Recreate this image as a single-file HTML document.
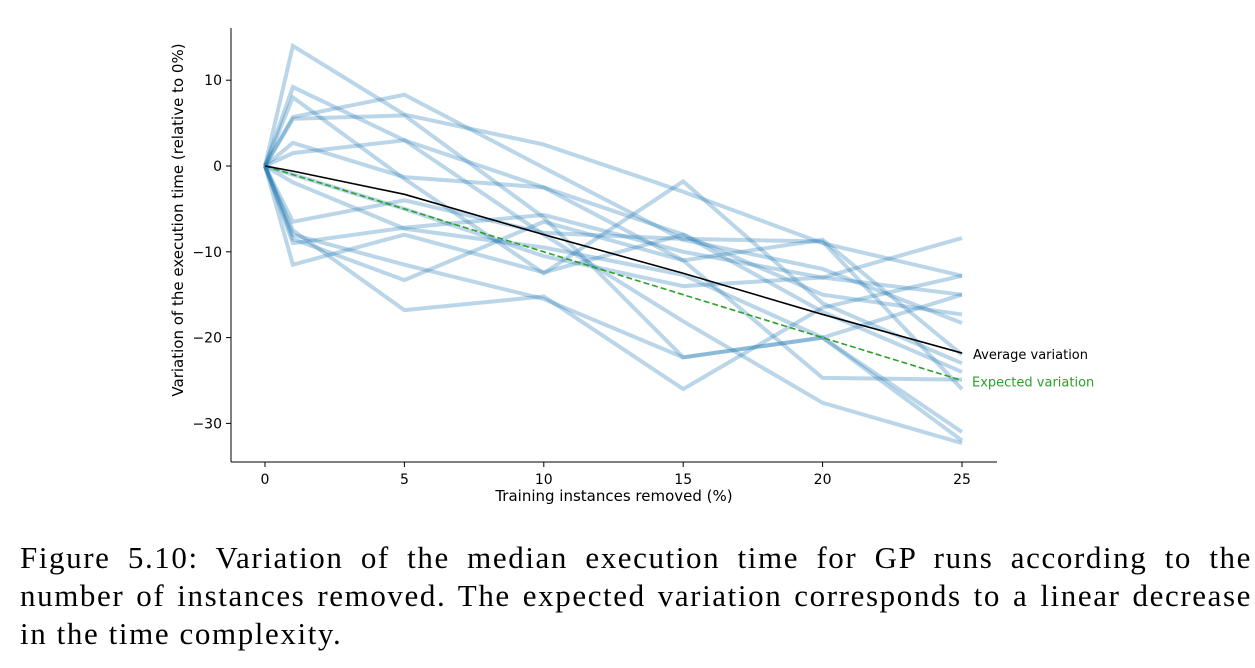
<!DOCTYPE html>
<html><head><meta charset="utf-8"><style>
body{margin:0;background:#fff;width:1255px;height:668px;overflow:hidden}
svg text{font-family:"DejaVu Sans","Liberation Sans",sans-serif}
.cap{position:absolute;left:20px;top:539px;font-family:"Liberation Serif",serif;font-size:31px;letter-spacing:1.6px;line-height:38px;color:#000;width:1232px}
.cap div{text-align:justify;text-align-last:justify;white-space:nowrap}
.cap div.last{text-align-last:left}
</style></head><body>
<svg id="chart" width="1255" height="540" style="position:absolute;left:0;top:0">
<g id="lines"></g>
<g id="axes"></g>
</svg>
<div class="cap">
<div style="white-space:normal">Figure 5.10: Variation of the median execution time for GP runs according to the</div>
<div style="white-space:normal">number of instances removed. The expected variation corresponds to a linear decrease</div>
<div class="last">in the time complexity.</div>
</div>
<script>
const xs = [0,1,5,10,15,20,25];
const runA = [0,14,6,2.5,-3,-9,-12.8];
const runB = [0,9.2,3,-2.5,-8,-17,-24];
const runC = [0,8,-1.5,-12.5,-1.8,-16,-23];
const runD = [0,5.7,8.3,-0.2,-8.6,-12,-18.3];
const runE = [0,5.5,5.9,-6,-22.3,-20,-32];
const runF = [0,2.7,-1.3,-2.5,-11,-8.6,-22];
const runG = [0,-1.9,-7.3,-9.5,-12.7,-20,-15];
const runH = [0,-6.5,-4,-7.8,-8.5,-8.8,-26];
const runI = [0,-8,-11.5,-15.5,-22.3,-20,-31];
const runJ = [0,-9,-7.2,-5.7,-10,-13,-8.4];
const runK = [0,-11.5,-8,-12.4,-8,-15,-17.3];
const runL = [0,-8.5,-13.3,-6.5,-11,-24.7,-24.9];
const runM = [0,-7.5,-16.8,-15.2,-26,-16.5,-12.8];
const runN = [0,1.5,3,-8,-18.1,-27.6,-32.3];
const runO = [0,-1,-5,-10.5,-14,-13,-15];
const runs = [runA,runB,runC,runD,runE,runF,runG,runH,runI,runJ,runK,runL,runM,runN,runO];
const average = [0,-0.6,-3.3,-8,-12.5,-17.3,-21.8];
const expected = [0,-1,-5,-10,-15,-20,-25];
const xTicks = [0,5,10,15,20,25];
const yTicks = [10,0,-10,-20,-30];

const NS='http://www.w3.org/2000/svg';
const X = v => 265 + v*27.88;
const Y = v => 166 - v*8.58;
function mk(tag, attrs, parent){const e=document.createElementNS(NS,tag);for(const k in attrs)e.setAttribute(k,attrs[k]);parent.appendChild(e);return e;}
const gl=document.getElementById('lines'), ga=document.getElementById('axes');
const pts = arr => arr.map((v,i)=>X(xs[i])+','+Y(v)).join(' ');
runs.forEach((r,i)=>{
  const p=mk('polyline',{points:pts(r),fill:'none',stroke:'#1f77b4','stroke-opacity':0.3,'stroke-width':4,'stroke-linejoin':'miter'},gl);
  
  
});
const e=mk('polyline',{points:pts(expected),fill:'none',stroke:'#2ca02c','stroke-width':1.6,'stroke-dasharray':'6,3'},gl);


const a=mk('polyline',{points:pts(average),fill:'none',stroke:'#000','stroke-width':1.6},gl);


const la=mk('text',{x:X(25)+11,y:Y(average[6])+6,'font-size':13,fill:'#000'},gl);la.textContent='Average variation';


const le=mk('text',{x:X(25)+10,y:Y(expected[6])+6,'font-size':13,fill:'#2ca02c'},gl);le.textContent='Expected variation';


mk('line',{x1:231,y1:28,x2:231,y2:462,stroke:'#000','stroke-width':1},ga);
mk('line',{x1:231,y1:462,x2:997,y2:462,stroke:'#000','stroke-width':1},ga);
xTicks.forEach(t=>{
  mk('line',{x1:X(t),y1:462,x2:X(t),y2:467,stroke:'#000'},ga);
  const tx=mk('text',{x:X(t),y:484,'font-size':14,'text-anchor':'middle'},ga);tx.textContent=t;
  
  
});
yTicks.forEach(t=>{
  mk('line',{x1:226,y1:Y(t),x2:231,y2:Y(t),stroke:'#000'},ga);
  const ty=mk('text',{x:222,y:Y(t)+5,'font-size':14,'text-anchor':'end'},ga);ty.textContent=t<0?'\u2212'+(-t):t;
  
  
});
const xt=mk('text',{x:614,y:501,'font-size':15,'text-anchor':'middle'},ga);xt.textContent='Training instances removed (%)';


const yt=mk('text',{x:0,y:0,'font-size':15,'text-anchor':'middle',transform:'translate(183,220) rotate(-90)'},ga);yt.textContent='Variation of the execution time (relative to 0%)';


</script>
</body></html>
